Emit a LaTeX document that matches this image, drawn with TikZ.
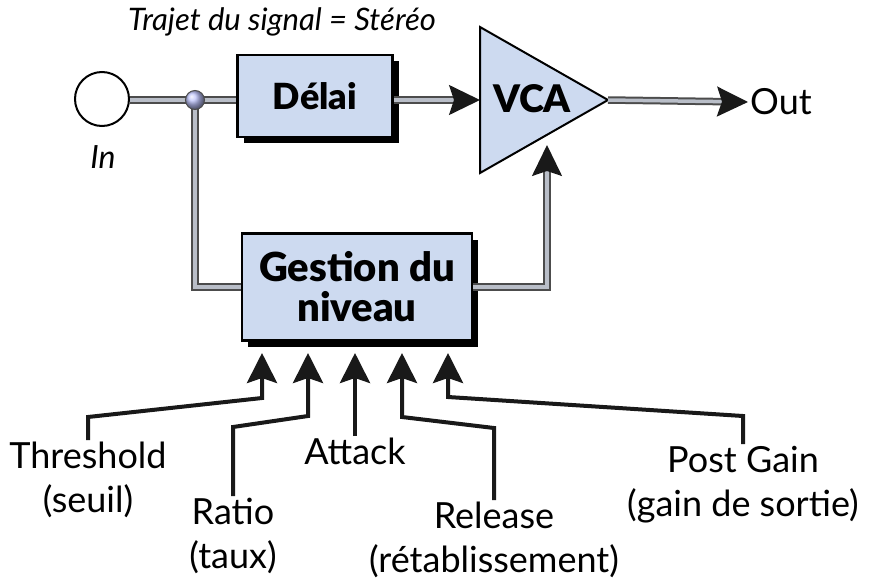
\documentclass[tikz,border=0pt]{standalone}
\usepackage{fontspec}
\setmainfont{Lato}
\newfontfamily\heavyfont{Lato Black}
\usetikzlibrary{arrows.meta}
\usetikzlibrary{shadows}
\definecolor{boxblue}{RGB}{205,218,240}
\definecolor{wiregray}{RGB}{185,190,200}

\begin{document}
\begin{tikzpicture}[x=1pt,y=-1pt,
  block/.style={draw=black, line width=2.5pt, fill=boxblue, align=center,
    drop shadow={shadow xshift=6pt, shadow yshift=-6pt, opacity=1, fill=black}},
  wire/.style={draw=black!70, line width=2pt, double=wiregray, double distance=3.5pt},
  wirearrow/.style={wire, -{Stealth[length=31pt,width=30pt,inset=5pt,color=black!90]}},
  ctrl/.style={draw=black!90, line width=4pt, -{Stealth[length=30pt,width=30pt,inset=5pt]}},
  lbl/.style={font=\fontsize{36}{44}\selectfont, align=center, inner sep=2pt}]
 \useasboundingbox (0,0) rectangle (876,584);

 % signal path
 \node[draw, circle, line width=2pt, minimum size=54pt, inner sep=0pt] (in) at (102,99) {};
 \node[lbl, font=\itshape\fontsize{32}{36}\selectfont] (inlbl) at (103,157) {In};
 \node[font=\itshape\fontsize{31}{36}\selectfont] (trajet) at (282,22) {Trajet du signal = Stéréo};
 \node[block, minimum width=155pt, minimum height=82pt,
   font=\heavyfont\fontsize{36}{40}\selectfont] (delai) at (315,96) {Délai};
 \draw[fill=boxblue, line width=2pt] (480,27) -- (480,173) -- (608,100) coordinate (vcatip) -- cycle;
 \coordinate (vcain) at (480,100);
 \coordinate (vcactl) at (547,145);
 \node[font=\heavyfont\fontsize{38}{40}\selectfont] (vca) at (532,99) {VCA};
 \node[lbl, anchor=west] (out) at (748,102) {Out};
 \node[block, minimum width=230pt, minimum height=107pt,
   font=\heavyfont\fontsize{40}{40}\selectfont] (gestion) at (357,287) {Gestion du\\niveau};
 \coordinate (split) at (195,100);

 \draw[wire] (in.east |- split) -- (split);
 \draw[wire] (split) -- (split -| delai.west);
 \draw[wire] (split) |- (gestion.west);
 \draw[wirearrow] (delai.east |- vcain) -- (vcain);
 \draw[wirearrow] (vcatip) -- (out.west);
 \draw[wirearrow] (gestion.east) -| (vcactl);
 \shade[ball color=boxblue!70!blue!60, draw=black!70, line width=1pt] (split) circle (9.5);

 % controls
 \coordinate (t1) at (262,353);
 \coordinate (t2) at (308,353);
 \coordinate (t3) at (355,353);
 \coordinate (t4) at (402,353);
 \coordinate (t5) at (448,353);
 \node[lbl, anchor=north] (thresh) at (88,440) {Threshold\\(seuil)};
 \node[lbl, anchor=north] (ratio) at (233,496) {Ratio\\(taux)};
 \node[lbl, anchor=north] (attack) at (355,436) {Attack};
 \node[lbl, anchor=north] (release) at (494,500) {Release\\(rétablissement)};
 \node[lbl, anchor=north] (postgain) at (743,444) {Post Gain\\(gain de sortie)};

 \draw[ctrl] (thresh.north) -- (88,417) -- (262,398) -- (t1);
 \draw[ctrl] (ratio.north) -- (233,427) -- (308,416) -- (t2);
 \draw[ctrl] (attack.north) -- (t3);
 \draw[ctrl] (release.north) -- (494,428) -- (402,417) -- (t4);
 \draw[ctrl] (postgain.north) -- (743,416) -- (448,397) -- (t5);
\end{tikzpicture}
\end{document}
